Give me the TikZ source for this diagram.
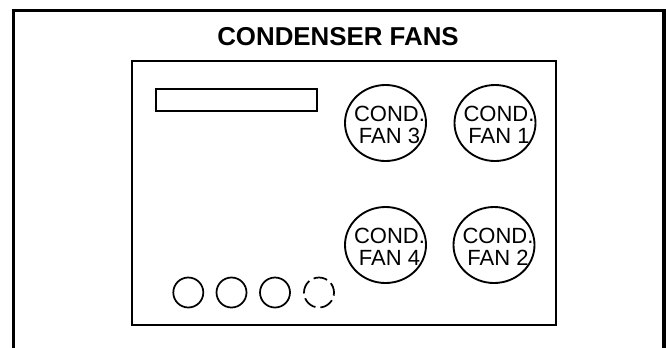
\documentclass[tikz,border=0pt]{standalone}
\usepackage{fontspec}
\setmainfont{Liberation Sans}
\usetikzlibrary{shapes.geometric}
\begin{document}
\begin{tikzpicture}[x=0.75pt,y=-0.75pt,
  box/.style={draw, line width=1.5pt, inner sep=0pt, outer sep=0pt},
  fan/.style={draw, ellipse, line width=1.4pt, minimum width=81*0.75pt, minimum height=76*0.75pt, inner sep=0pt},
  fanlabel/.style={align=center, inner sep=0pt, font=\fontsize{16.5pt}{16.5pt}\selectfont},
  port/.style={draw, circle, line width=1.3pt, minimum size=30*0.75pt, inner sep=0pt},
  title/.style={font=\fontsize{19.4pt}{20pt}\selectfont\bfseries, inner sep=0pt}]
\useasboundingbox (0,0) rectangle (666,347);
% outer frame (bottom runs off the picture)
\draw[line width=2.3pt] (13.5,350) -- (13.5,10.5) -- (664,10.5) -- (664,350);
\node[title, anchor=base] (title) at (338,45) {CONDENSER FANS};
% inner panel
\node[box, minimum width=424.1*0.75pt, minimum height=263.5*0.75pt] (panel) at (344.25,192.95) {};
\node[box, minimum width=160.8*0.75pt, minimum height=21.8*0.75pt] (slot) at (236.6,99.6) {};
% fans
\node[fan] (f3) at (385.5,123) {};
\node[fan] (f1) at (495,123) {};
\node[fan] (f4) at (385.5,245) {};
\node[fan] (f2) at (494,245) {};
\node[fanlabel] (t3) at ([shift={(4,2)}]f3.center) {COND.\\FAN 3};
\node[fanlabel] (t1) at ([shift={(4,2)}]f1.center) {COND.\\FAN 1};
\node[fanlabel] (t4) at ([shift={(4,2)}]f4.center) {COND.\\FAN 4};
\node[fanlabel] (t2) at ([shift={(4,2)}]f2.center) {COND.\\FAN 2};
% ports
\node[port] (p1) at (188.3,292.5) {};
\node[port] (p2) at (231.5,292.5) {};
\node[port] (p3) at (275,292.5) {};
\node[port, dash pattern=on 14*0.75pt off 5*0.75pt, dash phase=3pt] (p4) at (319,292.5) {};
\end{tikzpicture}
\end{document}
